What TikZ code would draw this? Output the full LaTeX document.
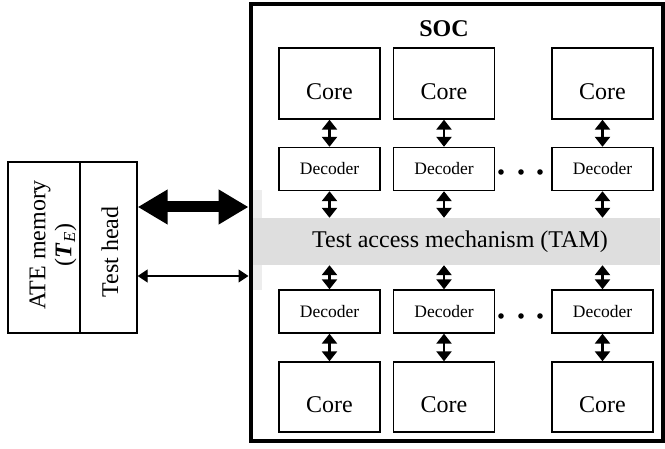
\documentclass[tikz,border=0pt]{standalone}
\usepackage{fontspec}
\setmainfont{Liberation Serif}
\usetikzlibrary{arrows.meta,calc}
\begin{document}
\begin{tikzpicture}[x=1pt,y=-1pt,
  box/.style={draw,line width=1.4pt,inner sep=0pt},
  corebox/.style={box,minimum width=101pt,minimum height=71pt},
  decbox/.style={box,minimum width=101pt,minimum height=43pt,font=\fontsize{17.5}{20}\selectfont},
  bigtxt/.style={font=\fontsize{24}{26}\selectfont},
  link/.style={line width=2.5pt,{Triangle[width=15pt,length=10pt]}-{Triangle[width=15pt,length=10pt]}},
  dot/.style={fill=black},
]
\useasboundingbox (0,0) rectangle (665,449);
% SOC
\fill[black!7] (253,190) rectangle (262,290);
\node[fill=black!13,minimum width=408pt,minimum height=47pt,inner sep=0pt,bigtxt] (tam) at (456,241.5) {\hspace{8pt}Test access mechanism (TAM)};
\node[draw,line width=4pt,minimum width=412pt,minimum height=437pt,inner sep=0pt] (soc) at (456.5,222.5) {};
\node[bigtxt,font=\fontsize{24}{26}\selectfont\bfseries] (soclabel) at (444,29) {SOC};
% columns
\foreach \i/\x in {1/329.5,2/444,3/602.5}{
  \node[corebox,label={[bigtxt,yshift=-8pt]center:Core}] (ct\i) at (\x,83.5) {};
  \node[decbox] (dt\i) at (\x,169) {Decoder};
  \node[decbox] (db\i) at (\x,311.5) {Decoder};
  \node[corebox,minimum height=70pt,label={[bigtxt,yshift=-8pt]center:Core}] (cb\i) at (\x,397) {};
  \draw[link] (ct\i.south) -- (dt\i.north);
  \draw[link] (dt\i.south) -- (dt\i.south |- tam.north);
  \draw[link] (db\i.north |- tam.south) -- (db\i.north);
  \draw[link] (db\i.south) -- (cb\i.north);
}
\foreach \x in {501,521,540}{
  \fill[dot] (\x,172) circle (2.8pt);
  \fill[dot] (\x,316) circle (2.8pt);
}
% ATE
\node[box,minimum width=72pt,minimum height=171pt] (ate) at (44,247.5) {};
\node[box,minimum width=57pt,minimum height=171pt] (th) at (108.5,247.5) {};
\node[bigtxt,rotate=90,align=center] (atetxt) at (53,245) {ATE memory\\(\textit{\textbf{T}}\textsubscript{\textit{E}})};
\node[bigtxt,rotate=90] (thtxt) at (110,252) {Test head};
\coordinate (a1) at (th.east |- 0,207);
\coordinate (a2) at (soc.west |- 0,207);
\draw[line width=11pt,{Triangle[width=33pt,length=30pt]}-{Triangle[width=33pt,length=30pt]}] (a1) -- (a2);
\coordinate (b1) at (th.east |- 0,276);
\coordinate (b2) at (soc.west |- 0,276);
\draw[line width=1.3pt,{Triangle[width=13pt,length=10pt]}-{Triangle[width=13pt,length=10pt]}] (b1) -- (b2);
\end{tikzpicture}
\end{document}
